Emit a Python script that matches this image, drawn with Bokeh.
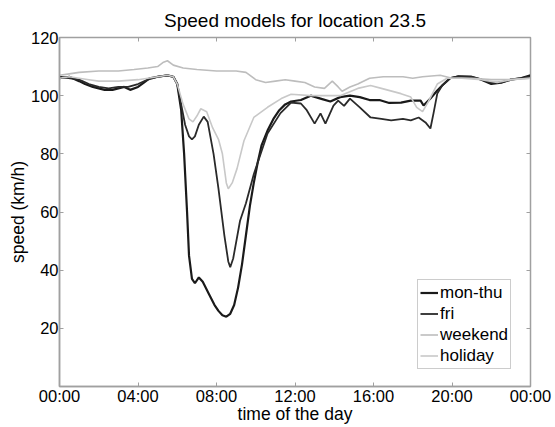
from bokeh.plotting import figure
from bokeh.models import Range1d, FixedTicker, LinearAxis, Legend, LegendItem
from bokeh.embed import file_html
from bokeh.resources import INLINE

# ---- data (hours of day, speed km/h) ----
monthu_t = [0.0, 0.5, 1.0, 1.3, 1.7, 2.0, 2.3, 2.7, 3.0, 3.3, 3.6, 4.0, 4.3, 4.6, 5.0, 5.5, 5.8,
            6.0, 6.2, 6.35, 6.5, 6.6, 6.75, 6.9, 7.1, 7.3, 7.6, 7.9, 8.1, 8.3, 8.5, 8.7, 8.9,
            9.1, 9.3, 9.5, 9.7, 9.9, 10.1, 10.3, 10.6, 10.9, 11.2, 11.5, 11.8, 12.3, 12.8,
            13.3, 13.8, 14.3, 14.8, 15.3, 15.8, 16.3, 16.8, 17.4, 17.9, 18.4, 18.55, 18.9,
            19.25, 19.5, 19.9, 20.3, 21.0, 21.5, 22.0, 22.5, 23.0, 23.5, 24.0]
monthu_v = [106, 106.5, 105, 104, 103, 102.5, 102, 102, 102.5, 103, 102, 103, 104.5, 106, 106.5, 107, 106.5,
            104, 95, 80, 60, 45, 37, 35.5, 37.5, 36, 32, 28, 26, 24.5, 24, 25, 28,
            34, 42, 52, 62, 70, 77, 83, 88, 92, 95, 97, 98, 98.5, 100,
            99, 98, 99.5, 100, 99.5, 98.5, 98.5, 97.5, 97.6, 98.3, 98.3, 96.6, 99,
            101.8, 103.5, 106, 106.6, 106.5, 105.5, 104, 104.5, 105.5, 106, 107]

fri_t = [0.0, 1.0, 1.5, 2.0, 2.5, 3.0, 3.5, 4.0, 4.5, 5.0, 5.5, 5.8, 6.0, 6.2, 6.4, 6.6, 6.75,
         6.9, 7.1, 7.35, 7.55, 7.85, 8.1, 8.4, 8.6, 8.7, 8.85, 9.2, 9.5, 9.9, 10.6, 11.26,
         11.8, 12.3, 12.6, 13.0, 13.3, 13.55, 13.96, 14.2, 14.5, 14.8, 15.3, 15.85, 16.4,
         16.9, 17.5, 17.9, 18.3, 18.65, 18.9, 19.06, 19.25, 19.5, 19.9, 20.3, 21.0, 21.5,
         22.0, 22.5, 23.0, 23.5, 24.0]
fri_v = [106.5, 105.5, 104, 103, 102.5, 103, 103, 104, 105.5, 106.5, 107, 106.5, 104, 97, 90, 86, 85,
         86, 90, 92.8, 91, 80, 68, 52, 43, 41, 44, 57, 63, 73, 87, 94,
         97.6, 97.3, 95, 90.4, 93.9, 90.4, 96.6, 98.3, 96.5, 99, 96, 92.5, 92,
         91.5, 92, 91.5, 92.5, 90.8, 88.7, 94, 100.7, 103.5, 106, 106.6, 106.5, 105.5,
         104.5, 104.5, 105.5, 106, 106.5]

weekend_t = [0.0, 0.5, 1.0, 2.0, 3.0, 3.8, 4.5, 5.0, 5.3, 5.5, 5.8, 6.3, 7.0, 8.0, 9.0, 9.5,
             10.0, 10.5, 11.0, 11.5, 12.0, 12.5, 13.0, 13.5, 13.9, 14.2, 14.4, 14.8, 15.2,
             15.8, 16.5, 17.5, 18.0, 18.5, 19.4, 20.0, 21.0, 22.0, 23.0, 24.0]
weekend_v = [107, 107.5, 108, 108.5, 108.5, 109, 109.5, 110, 111.5, 112, 110.5, 109.5, 109, 108.5, 108.5, 108,
             105.5, 104.5, 105, 105.5, 105, 104.5, 103, 102.5, 105, 103, 101.5, 103, 104,
             106, 106.5, 106.5, 106, 106.5, 107, 106, 106, 105.5, 105.5, 106]

holiday_t = [0.0, 0.5, 1.0, 1.5, 2.0, 3.0, 4.0, 4.5, 5.0, 5.5, 5.8, 6.0, 6.3, 6.6, 6.8, 7.0,
             7.2, 7.5, 7.8, 8.1, 8.3, 8.5, 8.6, 8.8, 9.05, 9.4, 9.9, 10.6, 11.3, 11.8, 12.8,
             13.5, 14.3, 15.2, 15.85, 16.4, 17.4, 17.9, 18.2, 18.5, 18.8, 19.25, 19.75, 20.5,
             21.5, 22.3, 23.0, 24.0]
holiday_v = [106, 106.5, 106, 105.5, 105, 105, 105.5, 106, 106.5, 107, 106.5, 104, 97, 92, 91, 93,
             95.5, 94.5, 89, 85, 80, 70, 68, 70, 75, 84.5, 92.5, 96, 99, 100.5, 100,
             100, 100, 102.5, 103.5, 102.5, 100.7, 99.5, 96, 94.5, 98, 104, 106, 106,
             105.5, 104.5, 105.5, 106]

x_ticks = [0, 4, 8, 12, 16, 20, 24]
x_tick_labels = ["00:00", "04:00", "08:00", "12:00", "16:00", "20:00", "00:00"]
y_ticks = [20, 40, 60, 80, 100, 120]

FONT = "Liberation Sans"
AX_COL = "#a0a0a0"

p = figure(width=555, height=427, output_backend="svg", toolbar_location=None,
           x_range=Range1d(0, 24), y_range=Range1d(0, 120),
           min_border_left=59, min_border_right=25, min_border_top=37, min_border_bottom=41)
p.title.text = "Speed models for location 23.5"
p.title.align = "center"
p.title.text_font = FONT
p.title.text_font_size = "19px"
p.title.text_font_style = "normal"
p.title.text_color = "black"
p.title.standoff = 14

p.xgrid.visible = False
p.ygrid.visible = False
p.outline_line_color = AX_COL
p.outline_line_width = 1.5
p.background_fill_color = "white"
p.border_fill_color = "white"

overrides = {t: l for t, l in zip(x_ticks, x_tick_labels)}
for ax in p.xaxis:
    ax.ticker = FixedTicker(ticks=x_ticks)
    ax.major_label_overrides = overrides
    ax.axis_label = "time of the day"
for ax in p.yaxis:
    ax.ticker = FixedTicker(ticks=y_ticks)
    ax.axis_label = "speed (km/h)"
for ax in list(p.xaxis) + list(p.yaxis):
    ax.axis_line_color = AX_COL
    ax.axis_line_width = 1.5
    ax.major_tick_line_color = AX_COL
    ax.major_tick_in = 4
    ax.major_tick_out = 0
    ax.minor_tick_line_color = None
    ax.major_label_text_font = FONT
    ax.major_label_text_font_size = "16.5px"
    ax.major_label_text_color = "black"
    ax.axis_label_text_font = FONT
    ax.axis_label_text_font_size = "17.5px"
    ax.axis_label_text_font_style = "normal"
    ax.axis_label_text_color = "black"
    ax.major_label_standoff = 1
    ax.axis_label_standoff = 0
for ax in p.xaxis:
    ax.major_label_standoff = 0
    ax.axis_label_standoff = -4

# mirrored ticks (box style), no labels
top = LinearAxis(ticker=FixedTicker(ticks=x_ticks),
                 major_label_overrides={t: "" for t in x_ticks},
                 axis_line_color=AX_COL, major_tick_line_color=AX_COL, major_tick_in=4,
                 major_tick_out=0, minor_tick_line_color=None, major_label_standoff=0)
right = LinearAxis(ticker=FixedTicker(ticks=y_ticks),
                   major_label_overrides={t: "" for t in y_ticks},
                   axis_line_color=AX_COL, major_tick_line_color=AX_COL, major_tick_in=4,
                   major_tick_out=0, minor_tick_line_color=None, major_label_standoff=0)
p.add_layout(right, "right")
p.add_layout(top, "above")

r1 = p.line(monthu_t, monthu_v, line_color="#1a1a1a", line_width=2.2)
r2 = p.line(fri_t, fri_v, line_color="#2a2a2a", line_width=1.8)
r3 = p.line(weekend_t, weekend_v, line_color="#bdbdbd", line_width=1.6)
r4 = p.line(holiday_t, holiday_v, line_color="#c8c8c8", line_width=1.6)

legend = Legend(items=[LegendItem(label="mon-thu", renderers=[r1]),
                       LegendItem(label="fri", renderers=[r2]),
                       LegendItem(label="weekend", renderers=[r3]),
                       LegendItem(label="holiday", renderers=[r4])],
                location=(358, 17))
legend.label_text_font = FONT
legend.label_text_font_size = "17px"
legend.label_text_color = "black"
legend.label_standoff = 2
legend.glyph_width = 18
legend.glyph_height = 21
legend.label_height = 21
legend.spacing = 0
legend.padding = 2
legend.margin = 0
legend.border_line_color = "#999999"
legend.border_line_width = 1.2
legend.background_fill_alpha = 1.0
p.add_layout(legend, "center")

open("out.html", "w").write(file_html(p, INLINE))
